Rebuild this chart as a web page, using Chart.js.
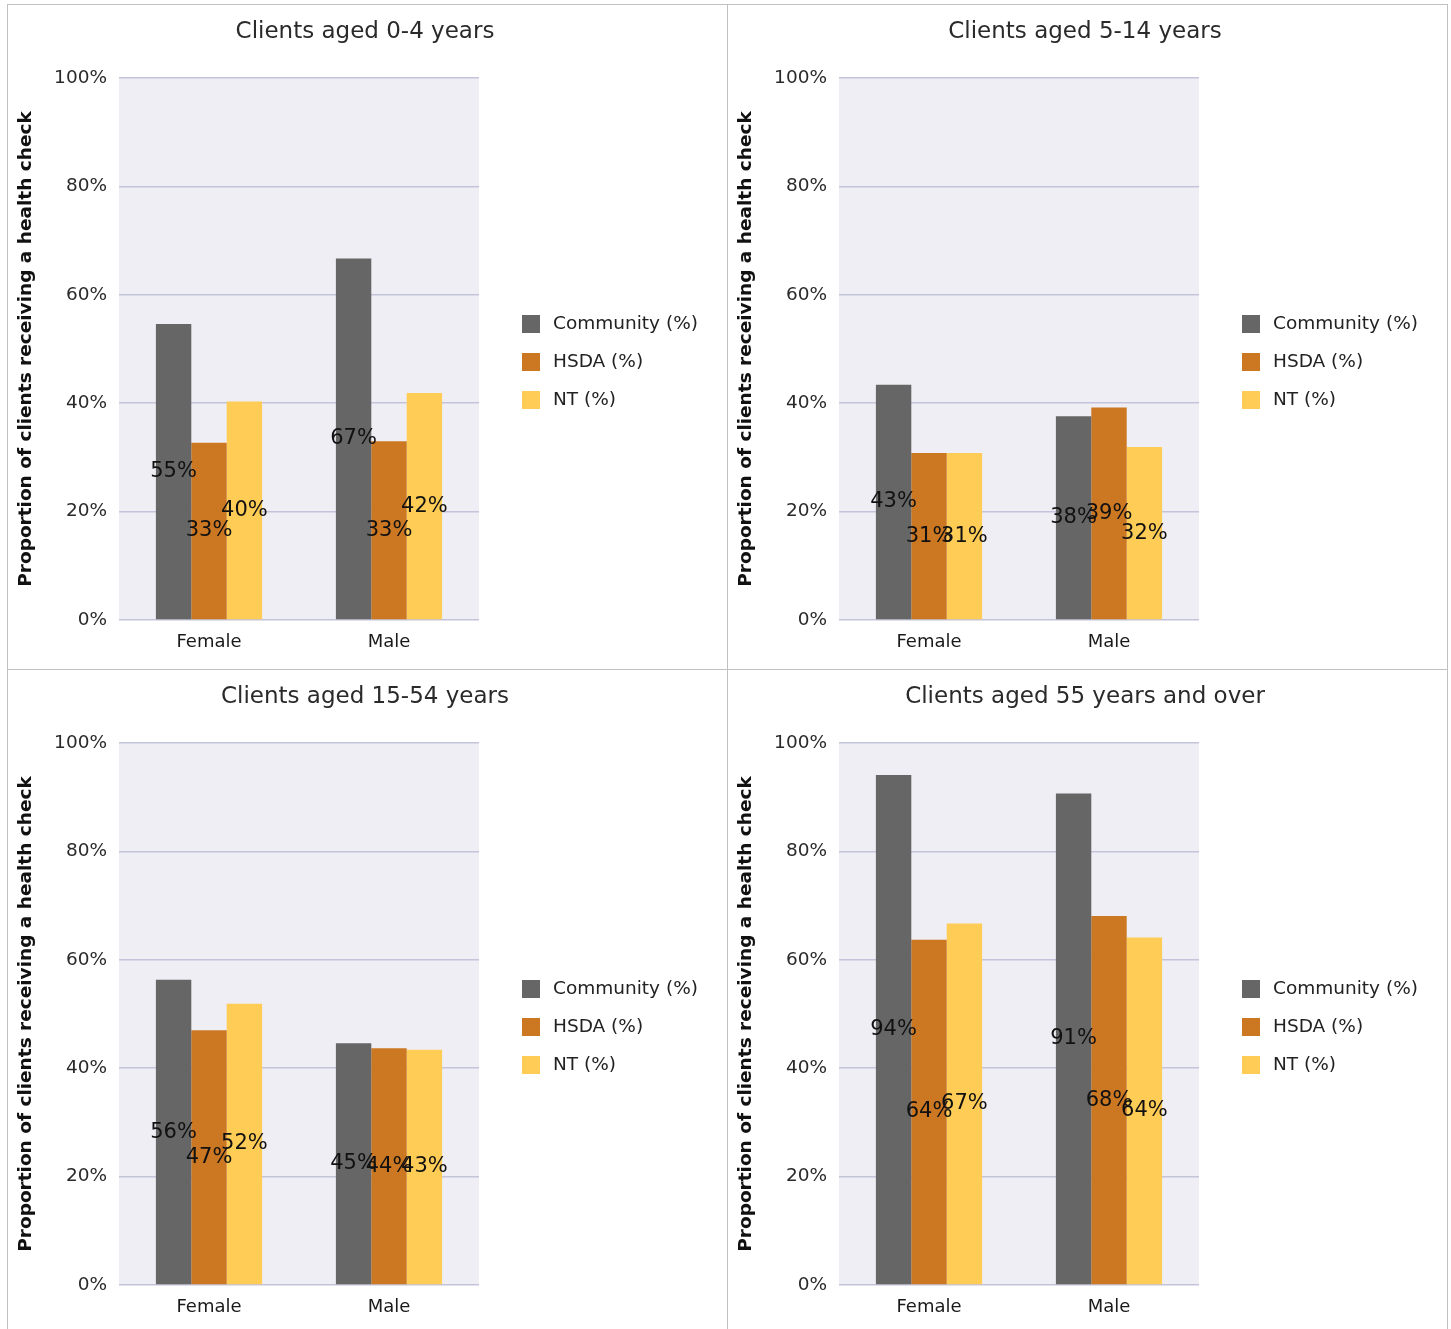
<!DOCTYPE html>
<html>
<head>
<meta charset="utf-8">
<script src="https://cdn.jsdelivr.net/npm/chart.js@4/dist/chart.umd.min.js"></script>
<style>
  body { margin: 0; background: #fff; }
  .panel { position: absolute; box-sizing: border-box; border-top: 1px solid #c0c0c0; border-left: 1px solid #c0c0c0; width: 720px; height: 665px; }
  .panel.right { border-right: 1px solid #c0c0c0; width: 721px; }
  canvas { display: block; }
</style>
</head>
<body>
<div class="panel" style="left:7px;top:4px"><canvas id="c0" width="719" height="664"></canvas></div>
<div class="panel right" style="left:727px;top:4px"><canvas id="c1" width="719" height="664"></canvas></div>
<div class="panel" style="left:7px;top:669px"><canvas id="c2" width="719" height="664"></canvas></div>
<div class="panel right" style="left:727px;top:669px"><canvas id="c3" width="719" height="664"></canvas></div>
<script>
const categories = ['Female', 'Male'];
const seriesLabels = ['Community (%)', 'HSDA (%)', 'NT (%)'];
const yTicks = [0, 20, 40, 60, 80, 100];
const yTitle = 'Proportion of clients receiving a health check';
const titles = ['Clients aged 0-4 years', 'Clients aged 5-14 years', 'Clients aged 15-54 years', 'Clients aged 55 years and over'];

// valeurs (%)
const community0to4 = [54.6, 66.7];
const hsda0to4 = [32.7, 33.0];
const nt0to4 = [40.3, 41.9];

const community5to14 = [43.4, 37.6];
const hsda5to14 = [30.8, 39.2];
const nt5to14 = [30.8, 31.9];

const community15to54 = [56.3, 44.6];
const hsda15to54 = [47.0, 43.7];
const nt15to54 = [51.9, 43.4];

const community55plus = [94.1, 90.7];
const hsda55plus = [63.7, 68.1];
const nt55plus = [66.7, 64.1];

const seriesColors = ['#666666', '#cc7722', '#ffcc55'];
const FONT = 'DejaVu Sans';

// fond gris-lavande de la zone de tracé
const plotBg = {
  id: 'plotBg',
  beforeDraw(chart) {
    const { ctx, chartArea: a } = chart;
    ctx.save();
    ctx.fillStyle = '#efeef4';
    ctx.fillRect(a.left, a.top, a.right - a.left, a.bottom - a.top);
    ctx.restore();
  },
};

// étiquettes de valeur au milieu de chaque barre
const barLabels = {
  id: 'barLabels',
  afterDatasetsDraw(chart) {
    const ctx = chart.ctx;
    ctx.save();
    ctx.font = `21px "${FONT}"`;
    ctx.fillStyle = '#111';
    ctx.textAlign = 'center';
    ctx.textBaseline = 'middle';
    chart.data.datasets.forEach((ds, i) => {
      chart.getDatasetMeta(i).data.forEach((bar, j) => {
        ctx.fillText(Math.round(ds.data[j]) + '%', bar.x, (bar.y + bar.base) / 2);
      });
    });
    ctx.restore();
  },
};

// légende à droite (la légende native est bridée en largeur)
const sideLegend = {
  id: 'sideLegend',
  afterDraw(chart) {
    const { ctx, chartArea: a } = chart;
    const x = a.right + 43;
    const midY = (a.top + a.bottom) / 2 + 13;
    const step = 38;
    ctx.save();
    ctx.font = `18.5px "${FONT}"`;
    ctx.textBaseline = 'middle';
    ctx.textAlign = 'left';
    chart.data.datasets.forEach((ds, i) => {
      const cy = midY + (i - 1) * step;
      ctx.fillStyle = ds.backgroundColor;
      ctx.fillRect(x, cy - 9, 18, 18);
      ctx.fillStyle = '#222';
      ctx.fillText(ds.label, x + 31, cy);
    });
    ctx.restore();
  },
};

function makeChart(id, title, community, hsda, nt) {
  const series = [community, hsda, nt];
  return new Chart(document.getElementById(id), {
    type: 'bar',
    data: {
      labels: categories,
      datasets: series.map((data, i) => ({
        label: seriesLabels[i],
        data,
        backgroundColor: seriesColors[i],
        borderWidth: 0,
        categoryPercentage: 0.59,
        barPercentage: 1,
      })),
    },
    options: {
      responsive: false,
      animation: false,
      layout: { padding: { top: 0, left: 0, right: 5, bottom: 0 } },
      plugins: {
        tooltip: { enabled: false },
        legend: { display: false },
        title: {
          display: true,
          text: title,
          color: '#2a2a2a',
          font: { family: FONT, size: 23, weight: 'normal' },
          padding: { top: 13, bottom: 32.4 },
        },
      },
      scales: {
        x: {
          grid: { display: false, drawTicks: false },
          border: { display: false },
          ticks: { color: '#1a1a1a', padding: 12, font: { family: FONT, size: 18 } },
          afterFit(s) { s.height = 49; },
        },
        y: {
          min: yTicks[0],
          max: yTicks[yTicks.length - 1],
          grid: { color: '#c3c3da', lineWidth: 1.5, drawTicks: false },
          border: { display: false },
          ticks: {
            stepSize: yTicks[1] - yTicks[0],
            color: '#2a2a2a',
            padding: 12,
            font: { family: FONT, size: 18.5 },
            callback: v => v + '%',
          },
          title: {
            display: true,
            text: yTitle,
            color: '#111',
            font: { family: FONT, size: 18.5, weight: 'bold' },
            padding: { top: 7, bottom: 0 },
          },
          afterFit(s) { s.width = 111; },
        },
        // réserve la place de la légende à droite de la zone de tracé
        gap: {
          type: 'linear',
          position: 'right',
          grid: { display: false, drawTicks: false },
          border: { display: false },
          ticks: { display: false },
          afterFit(s) { s.width = 243; },
        },
      },
    },
    plugins: [plotBg, barLabels, sideLegend],
  });
}

makeChart('c0', titles[0], community0to4, hsda0to4, nt0to4);
makeChart('c1', titles[1], community5to14, hsda5to14, nt5to14);
makeChart('c2', titles[2], community15to54, hsda15to54, nt15to54);
makeChart('c3', titles[3], community55plus, hsda55plus, nt55plus);
</script>
</body>
</html>
